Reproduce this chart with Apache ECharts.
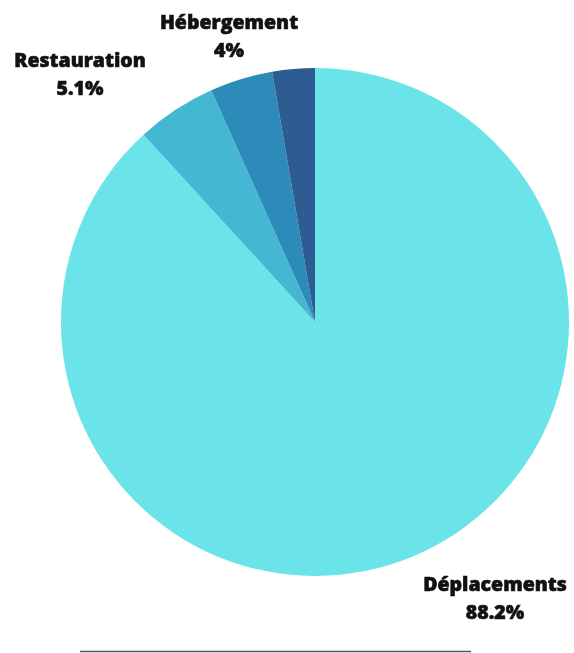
<!DOCTYPE html>
<html><head><meta charset="utf-8">
<script src="https://cdn.jsdelivr.net/npm/echarts@6/dist/echarts.min.js"></script>
<style>html,body{margin:0;padding:0;background:#fff}#c{width:574px;height:653px}</style>
</head><body><div id="c"></div>
<script>
const categories = ['Déplacements', 'Restauration', 'Hébergement', 'Autres'];
const values = [88.2, 5.1, 4, 2.7];
const colors = ['#6AE4E8', '#44B7D3', '#2D8BBA', '#2F5B93'];
const showLabel = [true, true, true, false];
const labelPos = [[495, 599], [80, 75], [229, 37], [0, 0]];

const chart = echarts.init(document.getElementById('c'));
chart.setOption({
  animation: false,
  series: [{
    type: 'pie',
    center: [315, 322],
    radius: [0, 254],
    startAngle: 90,
    clockwise: true,
    data: categories.map((n, i) => ({
      name: n, value: values[i],
      itemStyle: { color: colors[i] },
      label: { show: showLabel[i] }
    })),
    label: {
      position: 'outside',
      formatter: p => p.name + '\n' + p.value + '%',
      fontFamily: 'Open Sans',
      fontWeight: 800,
      fontSize: 19.5,
      lineHeight: 28,
      color: '#111',
      textBorderColor: '#111',
      textBorderWidth: 0.6,
      align: 'center',
      overflow: 'none'
    },
    labelLine: { show: false },
    labelLayout: p => ({ x: labelPos[p.dataIndex][0], y: labelPos[p.dataIndex][1], align: 'center', verticalAlign: 'middle' })
  }],
  graphic: [{
    type: 'line',
    shape: { x1: 80, y1: 651.5, x2: 471, y2: 651.5 },
    style: { stroke: '#555', lineWidth: 1.5 }
  }]
});
</script></body></html>
